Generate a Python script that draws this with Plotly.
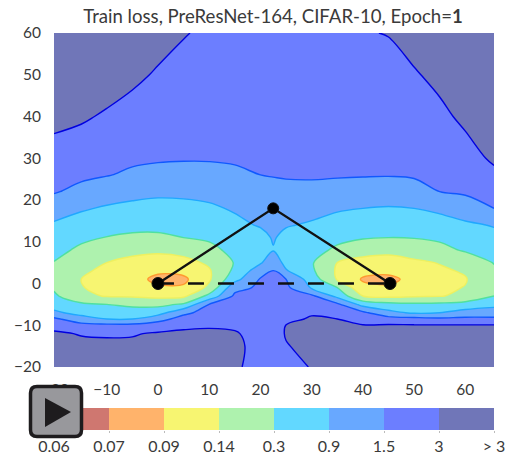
import numpy as np
import plotly.graph_objects as go

title = "Train loss, PreResNet-164, CIFAR-10, Epoch=<b>1</b>"
level_labels = ["0.06", "0.07", "0.09", "0.14", "0.3", "0.9", "1.5", "3", "&gt; 3"]
band_colors = ["#cf7770", "#ffb36b", "#f7f571", "#aef2ae", "#62d8ff", "#68a8ff", "#6c7eff", "#7076b8"]
line_colors = ["#d04030", "#d04030", "#ff9a30", "#eef060", "#50e0a0", "#20a8ff", "#1058ff", "#0000e0", "#0000e0"]

x_ticks = [-20, -10, 0, 10, 20, 30, 40, 50, 60]
x_tick_text = ["−20", "−10", "0", "10", "20", "30", "40", "50", "60"]
y_ticks = [-20, -10, 0, 10, 20, 30, 40, 50, 60]
y_tick_text = ["−20", "−10", "0", "10", "20", "30", "40", "50", "60"]

weights_x = [-20.3, -15, -10, -5, 0, 5, 10, 15, 20, 22.5, 25, 30, 35, 40, 45, 50, 55, 60, 65.6]
weights_y = [-20, -15, -12, -10, -8.5, -7, -5, -3, -1, 1, 3, 5, 8, 11, 14, 18, 22, 26, 30, 40, 50, 60]

# Loss, read as a position on the colour scale (0 = 0.06 ... 7 = 3, 8 = above 3), one list per column
col_m20 = [7.7, 7.4, 7.15, 6.68, 6.2, 5.18, 4.61, 4.17, 3.87, 3.63, 3.76, 3.97, 4.27, 4.57, 4.87, 5.47, 6.07, 6.36, 6.64, 7.25, 7.75, 7.95]
col_m15 = [7.6, 7.25, 6.94, 6.31, 5.38, 4.69, 4.18, 3.25, 3.04, 3.0, 3.15, 3.38, 3.83, 4.17, 4.57, 5.11, 5.76, 6.17, 6.43, 7.13, 7.6, 7.9]
col_m10 = [7.6, 7.2, 6.9, 6.23, 5.0, 4.57, 4.0, 2.93, 2.77, 2.6, 2.8, 3.0, 3.48, 3.97, 4.37, 4.89, 5.49, 6.04, 6.28, 6.88, 7.5, 7.85]
col_m05 = [7.55, 7.2, 6.93, 6.24, 5.0, 4.47, 3.79, 2.9, 2.68, 2.45, 2.56, 2.78, 3.21, 3.83, 4.27, 4.76, 5.29, 5.86, 6.15, 6.65, 7.2, 7.75]
col_p00 = [7.55, 7.3, 7.1, 6.48, 5.63, 4.62, 3.73, 2.75, 2.2, 1.7, 2.19, 2.58, 3.17, 3.83, 4.25, 4.7, 5.18, 5.75, 6.09, 6.49, 6.9, 7.35]
col_p05 = [7.5, 7.3, 7.15, 6.82, 6.38, 5.78, 4.13, 2.8, 2.13, 1.8, 2.27, 2.69, 3.33, 4.0, 4.32, 4.74, 5.2, 5.73, 6.06, 6.39, 6.71, 7.05]
col_p10 = [7.45, 7.3, 7.2, 6.88, 6.63, 6.37, 6.03, 4.29, 3.22, 2.88, 2.9, 3.15, 3.72, 4.15, 4.45, 4.85, 5.29, 5.76, 6.06, 6.35, 6.6, 6.85]
col_p15 = [7.06, 7.13, 7.07, 6.87, 6.72, 6.57, 6.38, 6.18, 5.71, 4.67, 4.22, 4.06, 4.28, 4.53, 4.77, 5.1, 5.49, 5.88, 6.08, 6.3, 6.55, 6.8]
col_p20 = [6.85, 6.8, 6.72, 6.65, 6.58, 6.5, 6.38, 6.26, 6.15, 6.08, 5.56, 4.9, 4.5, 4.7, 5.08, 5.38, 5.69, 6.0, 6.15, 6.3, 6.55, 6.75]
col_p22 = [6.75, 6.72, 6.68, 6.62, 6.55, 6.48, 6.36, 6.25, 6.15, 6.08, 6.02, 5.6, 4.95, 5.08, 5.28, 5.54, 5.8, 6.03, 6.15, 6.3, 6.5, 6.7]
col_p25 = [6.8, 6.96, 7.05, 7.01, 6.88, 6.75, 6.55, 6.38, 6.22, 6.0, 5.09, 4.7, 4.4, 4.75, 5.07, 5.41, 5.76, 6.08, 6.2, 6.35, 6.5, 6.7]
col_p30 = [7.03, 7.2, 7.25, 7.13, 7.05, 6.95, 6.56, 6.19, 4.89, 4.54, 4.17, 4.09, 4.36, 4.62, 4.89, 5.31, 5.76, 6.1, 6.2, 6.4, 6.6, 6.8]
col_p35 = [7.4, 7.3, 7.2, 7.12, 7.0, 6.65, 6.19, 4.71, 4.0, 2.92, 2.87, 3.0, 3.81, 4.27, 4.62, 5.11, 5.66, 6.08, 6.2, 6.42, 6.62, 6.85]
col_p40 = [7.45, 7.3, 7.2, 7.03, 6.63, 6.2, 4.65, 3.0, 2.26, 1.9, 2.27, 2.69, 3.38, 4.08, 4.47, 5.0, 5.57, 6.06, 6.2, 6.5, 6.75, 6.95]
col_p45 = [7.5, 7.3, 7.2, 7.08, 6.43, 5.28, 4.31, 2.78, 2.15, 1.75, 2.23, 2.62, 3.25, 4.0, 4.4, 4.93, 5.58, 6.04, 6.16, 6.45, 6.72, 7.03]
col_p50 = [7.5, 7.3, 7.2, 7.05, 6.36, 4.86, 4.17, 2.9, 2.66, 2.3, 2.67, 2.85, 3.39, 4.04, 4.43, 5.0, 5.7, 6.08, 6.22, 6.56, 6.91, 7.4]
col_p55 = [7.5, 7.3, 7.2, 7.05, 6.2, 5.0, 4.2, 2.95, 2.84, 2.76, 2.88, 3.04, 3.67, 4.19, 4.59, 5.2, 6.0, 6.17, 6.35, 6.78, 7.25, 7.7]
col_p60 = [7.5, 7.3, 7.2, 7.05, 6.24, 5.39, 4.38, 3.2, 3.03, 2.95, 3.08, 3.25, 4.12, 4.47, 4.82, 5.56, 6.12, 6.38, 6.63, 7.2, 7.6, 7.85]
col_p66 = [7.5, 7.3, 7.2, 7.05, 6.2, 5.46, 4.74, 4.0, 3.83, 3.7, 3.83, 4.05, 4.38, 4.7, 5.07, 6.0, 6.4, 6.8, 7.15, 7.7, 7.9, 7.95]

loss_bands = np.array([col_m20, col_m15, col_m10, col_m05, col_p00, col_p05, col_p10, col_p15, col_p20, col_p22,
                       col_p25, col_p30, col_p35, col_p40, col_p45, col_p50, col_p55, col_p60, col_p66]).T

# Curve between the two endpoints and the straight segment, in weight-plane coordinates
path_x = [0, 22.5, 45.3]
path_y = [0, 18, 0]
segment_x = [0, 45.3]
segment_y = [0, 0]

N = len(band_colors)
fill_scale = []
for i, c in enumerate(band_colors):
    fill_scale += [[i / N, c], [(i + 1) / N, c]]
line_scale = [[i / N, c] for i, c in enumerate(line_colors)]
levels = dict(start=0, end=N, size=1)

FONT = "Lato, 'Open Sans', sans-serif"
INK = "#3a3a3a"

fig = go.Figure()
fig.add_trace(go.Contour(x=weights_x, y=weights_y, z=loss_bands, zmin=0, zmax=N, autocontour=False,
                         contours=dict(coloring="fill", **levels), colorscale=fill_scale,
                         line=dict(width=0), showscale=False, hoverinfo="skip"))
fig.add_trace(go.Contour(x=weights_x, y=weights_y, z=loss_bands, zmin=0, zmax=N, autocontour=False,
                         contours=dict(coloring="lines", **levels), colorscale=line_scale,
                         line=dict(width=1.4), showscale=False, hoverinfo="skip"))
fig.add_trace(go.Scatter(x=segment_x, y=segment_y, mode="lines",
                         line=dict(color="#111111", width=2.4, dash="16px 14px"), hoverinfo="skip"))
fig.add_trace(go.Scatter(x=path_x, y=path_y, mode="lines+markers",
                         line=dict(color="#111111", width=2.4),
                         marker=dict(color="#000000", opacity=1, size=[12, 11, 12]), hoverinfo="skip"))
# Colour key along the bottom
fig.add_trace(go.Heatmap(x=[i + 0.5 for i in range(N)], y=[0], z=[list(range(N))], zmin=-0.5, zmax=N - 0.5,
                         colorscale=[[j / N, c] for i, c in enumerate(band_colors) for j in (i, i + 1)],
                         showscale=False, xaxis="x2", yaxis="y2", hoverinfo="skip"))

PW, PH = 440, 397
def px(v):
    return (v - 54) / PW
def py(v):
    return (430 - v) / PH

fig.update_layout(
    width=508, height=455, margin=dict(l=54, r=14, t=33, b=25, pad=0),
    paper_bgcolor="white", plot_bgcolor="white", showlegend=False,
    font=dict(family=FONT, size=15.5, color=INK),
    title=dict(text=title, x=273 / 508, xanchor="center", y=1 - 16.5 / 455, yanchor="middle",
               font=dict(family=FONT, size=18.6, color=INK)),
    xaxis=dict(domain=[0, 1], range=[-20.3, 65.6], tickmode="array", tickvals=x_ticks, ticktext=x_tick_text,
               ticks="", showgrid=False, zeroline=False, showline=False, anchor="y",
               automargin=False, ticklabelstandoff=11),
    yaxis=dict(domain=[py(367), 1], range=[-20, 60], tickmode="array", tickvals=y_ticks, ticktext=y_tick_text,
               ticks="", showgrid=False, zeroline=False, showline=False, anchor="x",
               automargin=False, ticklabelstandoff=12),
    xaxis2=dict(domain=[0, 1], range=[0, N], tickmode="array", tickvals=list(range(N + 1)), ticktext=level_labels,
                tickfont=dict(size=16), ticks="outside", ticklen=2, tickcolor="#bbbbbb",
                showgrid=False, zeroline=False, anchor="y2", automargin=False),
    yaxis2=dict(domain=[0, py(408)], range=[-0.5, 0.5], visible=False, anchor="x2", automargin=False),
    shapes=[
        dict(type="path", xref="paper", yref="paper", layer="above",
             path=(f"M {px(37)} {py(386.5)} L {px(75)} {py(386.5)} Q {px(81.5)} {py(386.5)} {px(81.5)} {py(393)} "
                   f"L {px(81.5)} {py(430)} Q {px(81.5)} {py(436.5)} {px(75)} {py(436.5)} "
                   f"L {px(37)} {py(436.5)} Q {px(30.5)} {py(436.5)} {px(30.5)} {py(430)} "
                   f"L {px(30.5)} {py(393)} Q {px(30.5)} {py(386.5)} {px(37)} {py(386.5)} Z"),
             fillcolor="#98989c", line=dict(color="#1e1c1e", width=3.5)),
        dict(type="path", xref="paper", yref="paper", layer="above",
             path=f"M {px(45)} {py(398)} L {px(71)} {py(412)} L {px(45)} {py(427)} Z",
             fillcolor="#1e1c1e", line=dict(width=0)),
    ],
)
fig.write_html("out.html", config=dict(displayModeBar=False),
               post_script="document.body.style.margin='0';document.body.style.overflow='hidden';")
